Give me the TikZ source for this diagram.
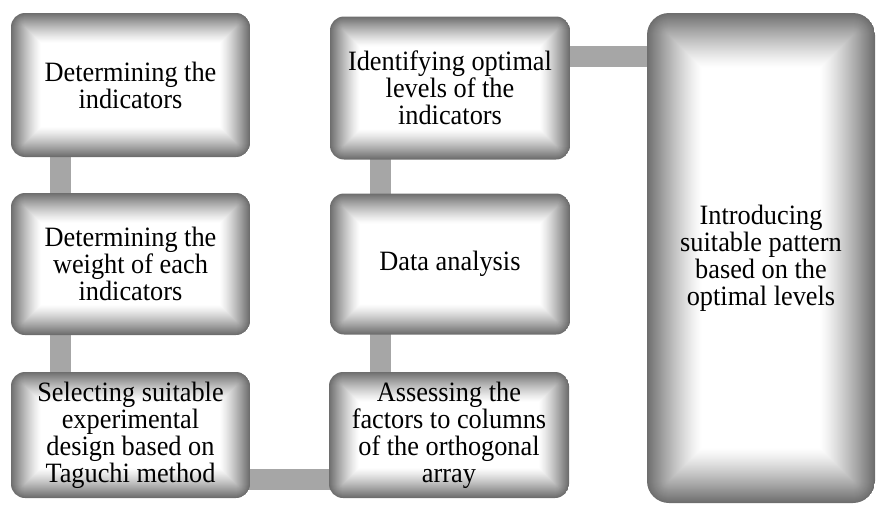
\documentclass[tikz,border=0pt]{standalone}
\usepackage{fontspec}
\setmainfont[FakeStretch=0.94]{Liberation Serif}
\usetikzlibrary{backgrounds}
\definecolor{edgegray}{RGB}{110,110,110}
\definecolor{bargray}{RGB}{166,166,166}
\newcommand\gradfill[2]{%
  \foreach \i in {0,...,#1}{%
    \pgfmathsetmacro\tt{\i/#1}%
    \pgfmathsetmacro\ww{100*(1-(1-\tt)^1.25)}%
    \pgfmathsetmacro\rr{max(#2-\i,0.01)}%
    \fill[white!\ww!edgegray, rounded corners=\rr pt]
      ([shift={(\i pt,\i pt)}]path picture bounding box.south west) rectangle
      ([shift={(-\i pt,-\i pt)}]path picture bounding box.north east);
  }}
\tikzset{
  gbox/.style n args={4}{rectangle, rounded corners=#4pt, inner sep=0pt,
    minimum width=#1pt, minimum height=#2pt, align=center,
    font=\fontsize{28}{27}\selectfont,
    path picture={\gradfill{#3}{#4}}},
  bar/.style={draw=bargray, line width=21pt}
}
\begin{document}
\begin{tikzpicture}[x=1pt,y=-1pt]
\useasboundingbox (0,0) rectangle (876,506);
\node[gbox={239}{144}{30}{14}] (b1) at (130.5,85) {Determining the\\indicators};
\node[gbox={239}{142}{30}{14}] (b2) at (130.5,264) {Determining the\\weight of each\\indicators};
\node[gbox={239}{126}{30}{14}] (b3) at (130.5,435) {Selecting suitable\\experimental\\design based on\\Taguchi method};
\node[gbox={240}{143}{30}{14}] (b4) at (450,88) {Identifying optimal\\levels of the\\indicators};
\node[gbox={240}{141}{30}{14}] (b5) at (450,264) {Data analysis};
\node[gbox={240}{126}{30}{14}] (b6) at (449,435) {Assessing the\\factors to columns\\of the orthogonal\\array};
\node[gbox={228}{490}{55}{22}] (b7) at (761,258) {Introducing\\suitable pattern\\based on the\\optimal levels};
\coordinate (c12) at ([xshift=-70.5pt]b1.center);
\coordinate (c36) at ([yshift=-44pt]b3.center);
\coordinate (c65) at ([xshift=-69pt]b6.center);
\coordinate (c47) at ([yshift=31.5pt]b4.center);
\begin{pgfonlayer}{background}
\draw[bar] (c12) -- (c12 |- b3.center);
\draw[bar] (c36) -- (c36 -| b6.center);
\draw[bar] (c65) -- (c65 |- b4.center);
\draw[bar] (c47) -- (c47 -| b7.center);
\end{pgfonlayer}
\end{tikzpicture}
\end{document}
